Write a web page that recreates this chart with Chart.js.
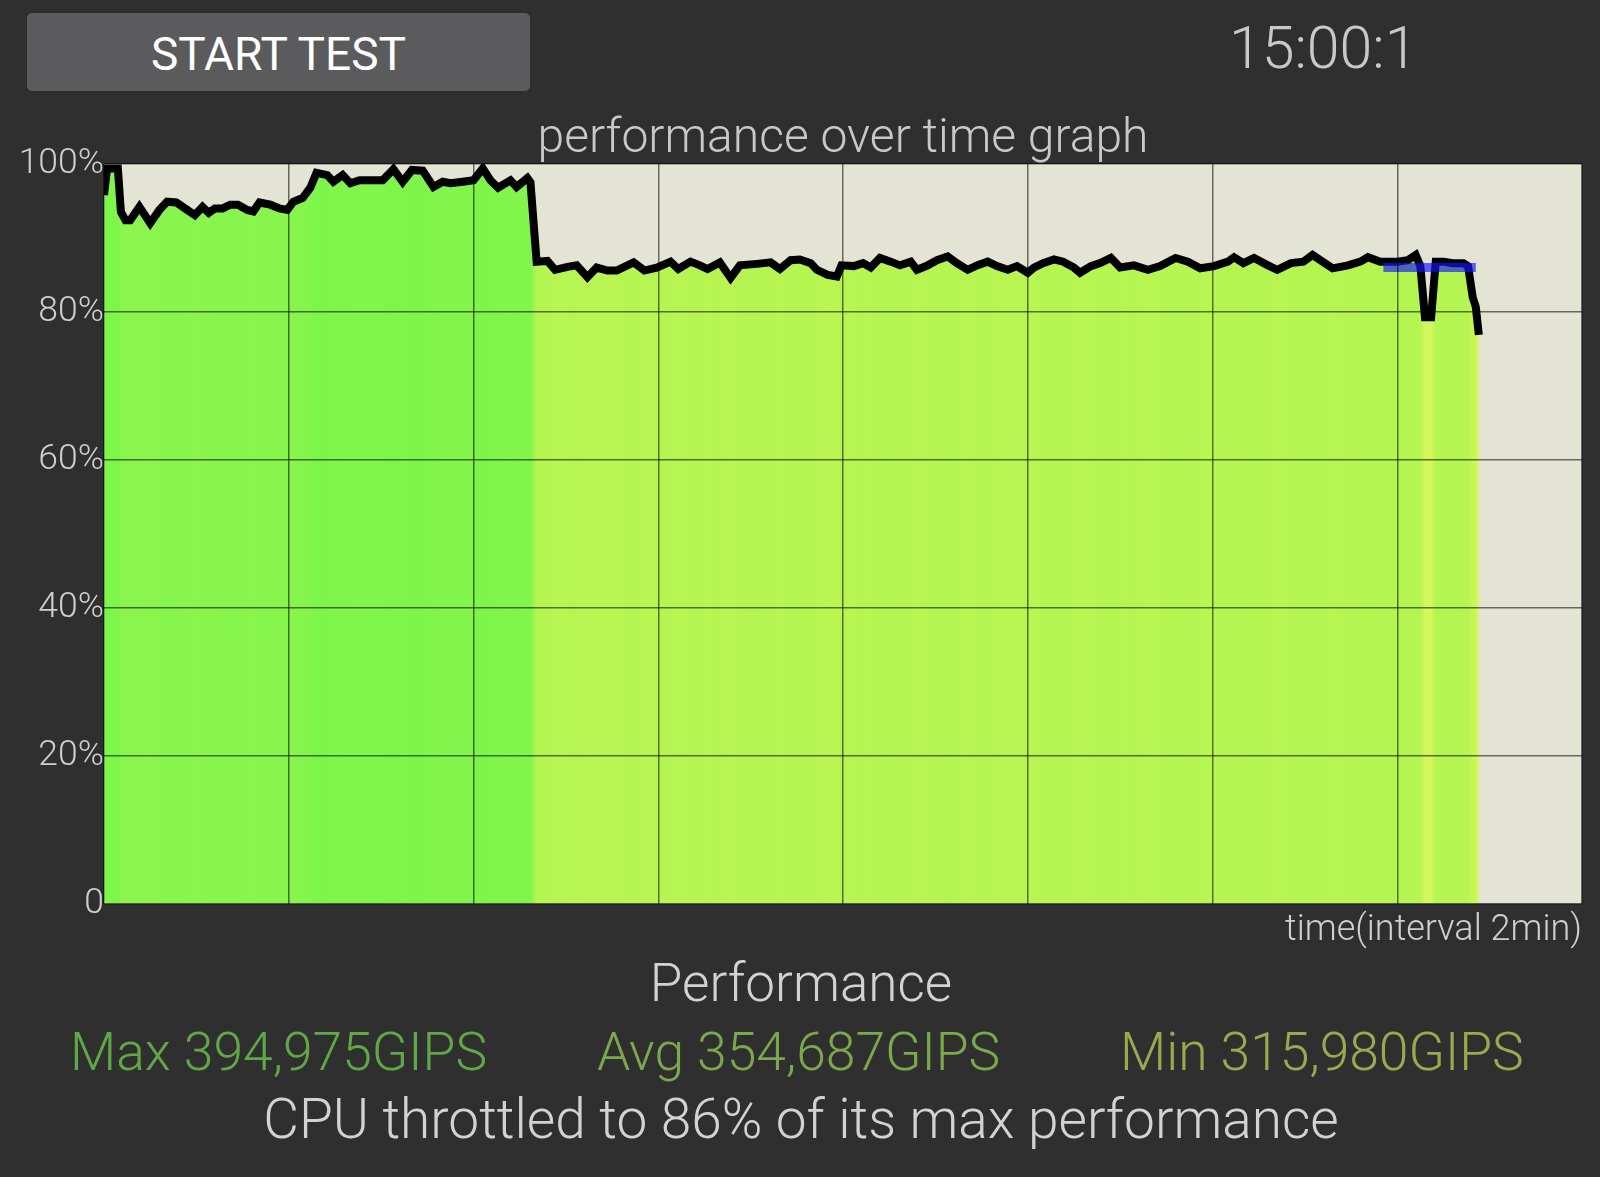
<!DOCTYPE html>
<html>
<head>
<meta charset="utf-8">
<script src="https://cdn.jsdelivr.net/npm/chart.js@4.4.1/dist/chart.umd.min.js"></script>
<style>
    html, body {
        margin: 0;
        padding: 0;
        width: 1600px;
        height: 1177px;
        overflow: hidden;
        background: #2f2f2f;
        font-family: Roboto, "Open Sans", sans-serif;
    }
    .abs {
        position: absolute;
        white-space: nowrap;
        line-height: 1;
    }
    #startBtn {
        left: 27px;
        top: 13px;
        width: 503px;
        height: 78px;
        background: #5b5b5d;
        border-radius: 5px;
    }
    #startLabel {
        left: 27px;
        top: 31px;
        width: 503px;
        text-align: center;
        font-size: 46px;
        font-weight: 400;
        color: #ffffff;
    }
    #timer { left: 1229px; top: 18px; font-size: 59px; font-weight: 300; color: #c8c8c8; }
    #perfHead { left: 0; width: 1602px; text-align: center; top: 957px; font-size: 53px; font-weight: 300; color: #d2d2d2; }
    #maxText { left: 70px; top: 1025px; font-size: 53.4px; font-weight: 300; color: #5fa847; }
    #avgText { left: 597px; top: 1025px; font-size: 53.4px; font-weight: 300; color: #7aa84a; }
    #minText { left: 1120px; top: 1025px; font-size: 53.4px; font-weight: 300; color: #9aa84e; }
    #throttleText { left: 0; width: 1602px; text-align: center; top: 1092px; font-size: 55px; font-weight: 300; color: #d2d2d2; }
    #chartWrap { position: absolute; left: 0; top: 100px; width: 1600px; height: 853px; }
</style>
</head>
<body>
<div id="startBtn" class="abs"></div>
<div id="startLabel" class="abs">START TEST</div>
<div id="timer" class="abs">15:00:1</div>

<div id="chartWrap"><canvas id="perfChart" width="1600" height="853"></canvas></div>

<div id="perfHead" class="abs">Performance</div>
<div id="maxText" class="abs">Max 394,975GIPS</div>
<div id="avgText" class="abs">Avg 354,687GIPS</div>
<div id="minText" class="abs">Min 315,980GIPS</div>
<div id="throttleText" class="abs">CPU throttled to 86% of its max performance</div>

<script>
// sample times in seconds (x axis runs 0..16 min, grid every 2 min)
const timesSec = [
    0, 2, 9, 11, 14, 17, 23, 30, 36, 41,
    47, 54, 59, 64, 68, 72, 77, 82, 87, 93,
    97, 101, 108, 114, 119, 123, 129, 134, 138, 145,
    149, 155, 160, 166, 175, 181, 188, 194, 200, 207,
    214, 220, 225, 233, 240, 246, 251, 256, 264, 268,
    275, 277, 281, 288, 293, 301, 307, 314, 320, 327,
    333, 344, 351, 359, 368, 373, 381, 387, 392, 400,
    407, 413, 424, 433, 439, 446, 452, 459, 463, 470,
    476, 479, 487, 493, 498, 504, 511, 517, 524, 528,
    535, 541, 548, 554, 561, 567, 574, 580, 587, 593,
    600, 604, 610, 617, 623, 630, 634, 641, 647, 654,
    660, 669, 678, 686, 696, 704, 712, 721, 730, 734,
    740, 747, 756, 762, 771, 779, 785, 790, 798, 808,
    816, 821, 829, 840, 847, 852, 855, 858, 862, 865,
    870, 876, 883, 886, 889, 891, 893
];

// performance in % of max
const perfPct = [
    95.8, 99.4, 99.4, 93.5, 92.4, 92.4, 94.2, 92.0, 93.8, 94.9,
    94.8, 93.8, 93.1, 94.2, 93.4, 94.0, 94.0, 94.5, 94.5, 93.8,
    93.6, 94.8, 94.5, 94.0, 93.8, 94.9, 95.4, 96.8, 98.8, 98.5,
    97.6, 98.5, 97.4, 97.8, 97.8, 97.8, 99.3, 97.6, 99.2, 99.1,
    96.9, 97.6, 97.4, 97.6, 97.8, 99.4, 97.8, 96.8, 97.8, 96.9,
    98.1, 97.5, 86.8, 86.9, 85.7, 86.1, 86.3, 84.7, 86.0, 85.6,
    85.6, 86.7, 85.6, 86.0, 86.8, 85.8, 86.8, 86.3, 85.8, 86.7,
    84.6, 86.3, 86.5, 86.7, 85.8, 87.0, 87.1, 86.6, 85.7, 85.0,
    84.8, 86.3, 86.2, 86.6, 86.0, 87.3, 86.8, 86.3, 86.8, 85.7,
    86.3, 87.0, 87.5, 86.6, 85.7, 86.3, 86.8, 86.2, 85.7, 86.2,
    85.3, 86.0, 86.6, 87.1, 86.8, 86.0, 85.3, 86.2, 86.6, 87.3,
    86.0, 86.3, 85.7, 86.2, 87.3, 86.8, 85.9, 86.2, 86.8, 87.4,
    86.6, 87.3, 86.3, 85.7, 86.6, 86.8, 87.7, 87.0, 85.9, 86.3,
    86.8, 87.4, 86.8, 86.8, 87.0, 87.7, 86.2, 79.3, 79.3, 86.8,
    86.8, 86.6, 86.6, 86.2, 82.0, 80.7, 76.9
];

// blue marker of the throttled level over the last minute
const throttleTimes = [831, 891];
const throttlePct = [86, 86];

const yTickValues = [0, 20, 40, 60, 80, 100];
const xStepSec = 120;
const xMaxSec = 960;

const textColor = '#cfcfcf';
const gridColor = 'rgba(0, 0, 0, 0.55)';

// fill colour by performance level: green when high, lime then yellow as it drops
const colorStops = [
    [76, [226, 248, 96]],
    [79, [214, 247, 90]],
    [84, [188, 245, 82]],
    [88, [178, 245, 80]],
    [92, [140, 245, 78]],
    [100, [124, 245, 74]]
];

function colorFor(v) {
    if (v <= colorStops[0][0]) return 'rgb(' + colorStops[0][1].join(',') + ')';
    for (let i = 1; i < colorStops.length; i++) {
        const [v1, c1] = colorStops[i];
        const [v0, c0] = colorStops[i - 1];
        if (v <= v1) {
            const f = (v - v0) / (v1 - v0);
            const c = c0.map((a, k) => Math.round(a + (c1[k] - a) * f));
            return 'rgb(' + c.join(',') + ')';
        }
    }
    return 'rgb(' + colorStops[colorStops.length - 1][1].join(',') + ')';
}

// horizontal gradient following the samples
function fillGradient(context) {
    const chart = context.chart;
    const area = chart.chartArea;
    const xScale = chart.scales.x;
    if (!area || !xScale) return 'rgb(180, 245, 80)';
    const g = chart.ctx.createLinearGradient(area.left, 0, area.right, 0);
    timesSec.forEach((t, i) => {
        const off = (xScale.getPixelForValue(t) - area.left) / (area.right - area.left);
        g.addColorStop(Math.min(1, Math.max(0, off)), colorFor(perfPct[i]));
    });
    return g;
}

const plotBackground = {
    id: 'plotBackground',
    beforeDraw(chart) {
        const { ctx, chartArea } = chart;
        ctx.save();
        ctx.fillStyle = '#e4e4d5';
        ctx.fillRect(chartArea.left, chartArea.top, chartArea.right - chartArea.left, chartArea.bottom - chartArea.top);
        ctx.restore();
    }
};

const ctx = document.getElementById('perfChart').getContext('2d');

new Chart(ctx, {
    type: 'line',
    data: {
        datasets: [
            {
                label: 'throttled',
                data: throttleTimes.map((t, i) => ({ x: t, y: throttlePct[i] })),
                borderColor: 'rgba(20, 20, 255, 0.65)',
                borderWidth: 9,
                borderCapStyle: 'butt',
                pointRadius: 0,
                fill: false,
                order: 0
            },
            {
                label: 'performance',
                data: timesSec.map((t, i) => ({ x: t, y: perfPct[i] })),
                borderColor: '#000000',
                borderWidth: 8,
                pointRadius: 0,
                tension: 0,
                fill: 'origin',
                backgroundColor: fillGradient,
                order: 1
            }
        ]
    },
    options: {
        responsive: false,
        animation: false,
        devicePixelRatio: 1,
        layout: {
            padding: { left: 0, right: 18, top: 0, bottom: 0 }
        },
        plugins: {
            legend: { display: false },
            tooltip: { enabled: false },
            title: {
                display: true,
                fullSize: false,
                text: 'performance over time graph',
                color: '#c8c8c8',
                font: { size: 48, family: 'Roboto', weight: '300', lineHeight: 1 },
                padding: { top: 16, bottom: 0 }
            }
        },
        scales: {
            x: {
                type: 'linear',
                min: 0,
                max: xMaxSec,
                ticks: { display: false, stepSize: xStepSec },
                grid: { color: gridColor, lineWidth: 1.5, drawTicks: false, z: 1 },
                border: { display: false },
                title: {
                    display: true,
                    text: 'time(interval 2min)',
                    align: 'end',
                    color: textColor,
                    font: { size: 36, family: 'Roboto', weight: '300' },
                    padding: { top: 6, bottom: 0 }
                }
            },
            y: {
                min: 0,
                max: 100,
                afterBuildTicks: (scale) => {
                    scale.ticks = yTickValues.map(v => ({ value: v }));
                },
                afterFit: (scale) => {
                    scale.width = 104;
                },
                ticks: {
                    color: textColor,
                    padding: 0,
                    font: { size: 35.5, family: 'Roboto', weight: '300' },
                    callback: (v) => v === 0 ? '0' : v + '%'
                },
                grid: { color: gridColor, lineWidth: 1.5, drawTicks: false, z: 1 },
                border: { display: false }
            }
        }
    },
    plugins: [plotBackground]
});
</script>
</body>
</html>
